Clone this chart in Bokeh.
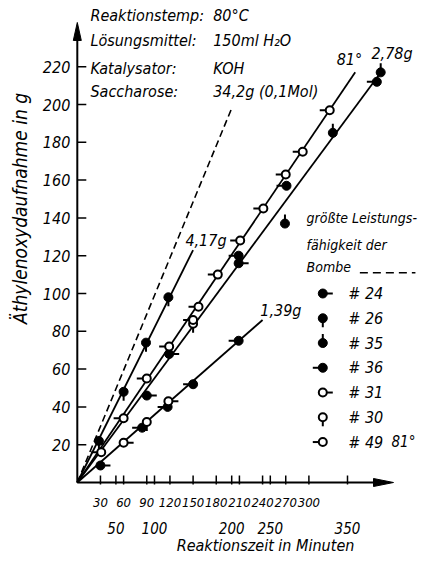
import numpy as np
from bokeh.plotting import figure
from bokeh.models import Range1d
from bokeh.core.properties import value
from bokeh.embed import file_html
from bokeh.resources import INLINE

# ---------------- data ----------------
# series: reaction time (min) -> ethylene oxide uptake (g)
s24_x = [30, 90, 119, 209]
s24_y = [9, 46, 68, 116]
s26_x = [28, 60, 89, 118]
s26_y = [22, 48, 74, 98]
s35_x = [269, 331, 393]
s35_y = [137, 185, 217]
s36_x = [84, 117, 150, 209, 209, 271, 388]
s36_y = [29, 40, 52, 75, 120, 157, 212]
s31_x = [60, 118]
s31_y = [21, 43]
s30_x = [90, 150]
s30_y = [32, 84]
s49_x = [31, 60, 90, 119, 150, 157, 182, 211, 241, 270, 292, 327]
s49_y = [16, 34, 55, 72, 86, 93, 110, 128, 145, 163, 175, 197]

# drawn straight lines (start, end)
line_417_x = [0, 150]
line_417_y = [0, 123]
line_81_x = [0, 360]
line_81_y = [0, 217]
line_278_x = [0, 395]
line_278_y = [0, 218]
line_139_x = [0, 240]
line_139_y = [0, 86]
bomb_x = [0, 201]
bomb_y = [0, 199]

legend_labels = ["# 24", "# 26", "# 35", "# 36", "# 31", "# 30", "# 49"]

x_ticks_row1 = [30, 60, 90, 120, 150, 180, 210, 240, 270, 300]
x_ticks_row2 = [50, 100, 200, 250, 350]
y_ticks = [20, 40, 60, 80, 100, 120, 140, 160, 180, 200, 220]

info_keys = ["Reaktionstemp:", "Lösungsmittel:", "Katalysator:", "Saccharose:"]
info_vals = ["80°C", "150ml H\u2082O", "KOH", "34,2g (0,1Mol)"]

# ---------------- layout (whole canvas is the plot frame) ----------------
W, H = 423, 557
PXX = 0.772    # px per minute
PXY = 1.89     # px per gram
OX, OY = 76.8, 482.0   # origin position inside the canvas (px from top-left)
x0 = -OX / PXX
x1 = (W - OX) / PXX
y1 = OY / PXY
y0 = (OY - H) / PXY

FONT = value("DejaVu Sans Condensed")

p = figure(width=W, height=H, output_backend="svg", toolbar_location=None,
           x_range=Range1d(x0, x1), y_range=Range1d(y0, y1),
           x_axis_location=None, y_axis_location=None,
           min_border=0)
p.grid.visible = False
p.outline_line_color = None
p.background_fill_color = "white"


def px(dx):
    return dx / PXX


def py(dy):
    return dy / PXY


def txt(x, y, t, size="17px", align="left", angle=0.0):
    p.text(x=np.atleast_1d(x), y=np.atleast_1d(y), text=np.atleast_1d(t),
           text_font=FONT, text_font_style="italic", text_font_size=size,
           text_align=align, text_baseline="middle", text_color="black",
           angle=angle)


# ---- axes with arrow heads ----
x_tip, y_tip = 409.6, 243.4
p.line([0, x_tip - px(19)], [0, 0], line_color="black", line_width=2)
p.patch([x_tip, x_tip - px(20), x_tip - px(20)], [0, py(4), -py(4)], color="black")
p.line([0, 0], [0, y_tip - py(17)], line_color="black", line_width=2)
p.patch([0, px(4), -px(4)], [y_tip, y_tip - py(18), y_tip - py(18)], color="black")

# y ticks + labels
yt = np.array(y_ticks, float)
p.segment(np.zeros_like(yt), yt, np.full_like(yt, px(9)), yt,
          line_color="black", line_width=1.5)
txt(np.full_like(yt, -px(7)), yt, [str(int(t)) for t in y_ticks], size="16px", align="right")

# x ticks + two rows of labels
xt = np.array(sorted(set(x_ticks_row1 + x_ticks_row2)), float)
p.segment(xt, np.full_like(xt, -py(2)), xt, np.full_like(xt, py(7)),
          line_color="black", line_width=1.5)
x1t = np.array(x_ticks_row1, float)
txt(x1t, np.full_like(x1t, -py(20)), [str(t) for t in x_ticks_row1], size="13px", align="center")
x2t = np.array(x_ticks_row2, float)
txt(x2t, np.full_like(x2t, -py(45)), [str(t) for t in x_ticks_row2], size="15px", align="center")

# axis titles
txt(243.8, -py(63), "Reaktionszeit in Minuten", size="16px", align="center")
txt(-px(57), 145, "Äthylenoxydaufnahme in g", size="19px", align="center", angle=np.pi / 2)

# ---- lines ----
p.line(bomb_x, bomb_y, line_color="black", line_width=1.6, line_dash="7 4")
for lx, ly in [(line_417_x, line_417_y), (line_81_x, line_81_y),
               (line_278_x, line_278_y), (line_139_x, line_139_y)]:
    p.line(lx, ly, line_color="black", line_width=1.8)

FX, FY = px(10), py(9)
dirs = {"right": (FX, 0), "left": (-FX, 0), "up": (0, FY), "down": (0, -FY)}

series = [
    (s24_x, s24_y, True, "right"),
    (s26_x, s26_y, True, "down"),
    (s35_x, s35_y, True, "up"),
    (s36_x, s36_y, True, "left"),
    (s31_x, s31_y, False, "right"),
    (s30_x, s30_y, False, "down"),
    (s49_x, s49_y, False, "left"),
]


def draw(xs, ys, filled, d):
    xs = np.asarray(xs, float)
    ys = np.asarray(ys, float)
    dx, dy = dirs[d]
    p.segment(xs, ys, xs + dx, ys + dy, line_color="black", line_width=2)
    if filled:
        p.scatter(xs, ys, marker="circle", size=9, fill_color="black",
                  line_color="black", line_width=1)
    else:
        p.scatter(xs, ys, marker="circle", size=8, fill_color="white",
                  line_color="black", line_width=2)


for xs, ys, filled, d in series:
    draw(xs, ys, filled, d)

# ---- legend (hand-drawn) ----
leg_x, leg_top, leg_step = 318, 100, 13.1
for i, (lab, (xs, ys, filled, d)) in enumerate(zip(legend_labels, series)):
    ly = leg_top - i * leg_step
    draw([leg_x], [ly], filled, d)
    txt(351, ly, lab, size="16px")
txt(407, leg_top - 6 * leg_step, "81°", size="15px")

# note for dashed line
for t, ty in [("größte Leistungs-", 139.7), ("fähigkeit der", 125.4), ("Bombe", 113.8)]:
    txt(297, ty, t, size="14px")
p.line([366, 438], [111.0, 111.0], line_color="black", line_width=1.6, line_dash="8 5")

# line annotations
for t, tx, ty in [("4,17g", 140, 128), ("1,39g", 237, 91), ("81°", 336, 224),
                  ("2,78g", 381, 227)]:
    txt(tx, ty, t, size="16px")

# ---- info block ----
info_y = [247, 234, 219, 207]
for k, v, iy in zip(info_keys, info_vals, info_y):
    txt(17, iy, k, size="16px")
    txt(176, iy, v, size="16px")

open("out.html", "w").write(file_html(p, INLINE))
